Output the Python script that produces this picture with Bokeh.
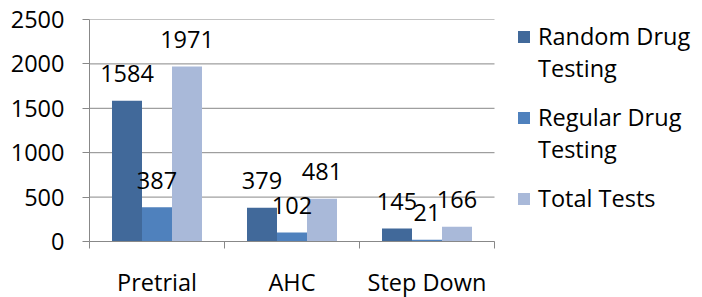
from bokeh.plotting import figure
from bokeh.models import ColumnDataSource, FixedTicker, Legend, LegendItem
from bokeh.transform import dodge
from bokeh.core.properties import value
from bokeh.embed import file_html
from bokeh.resources import INLINE

categories = ["Pretrial", "AHC", "Step Down"]
random_drug = [1584, 379, 145]
regular_drug = [387, 102, 21]
total_tests = [1971, 481, 166]
legend_line1 = ["Random Drug", "Regular Drug", "Total Tests"]
legend_line2 = ["Testing", "Testing"]
y_ticks = [0, 500, 1000, 1500, 2000, 2500]

COLORS = ["#41699A", "#4F81BD", "#A9B9D9"]
GRID = "#888888"
FONT = "Open Sans"
FS = "23.5px"

n = len(categories)
x_centers = [i + 0.5 for i in range(n)]
boundaries = [float(i) for i in range(n + 1)]

# frame spans to the right edge so that the legend sits inside it;
# the category area occupies the first 405 px of the 613 px frame
FRAME_W = 613
CAT_W = 405
p = figure(frame_width=FRAME_W, frame_height=222,
           x_range=(0, n * FRAME_W / CAT_W), y_range=(0, 2500),
           output_backend="svg", toolbar_location=None,
           min_border_left=89, min_border_right=0,
           min_border_top=19, min_border_bottom=56)
p.outline_line_color = None
p.background_fill_color = "white"
p.border_fill_color = "white"
p.xgrid.visible = False
p.ygrid.visible = False

# horizontal gridlines limited to the category area
gsrc = ColumnDataSource(dict(yv=y_ticks, x0=[0] * len(y_ticks), x1=[n] * len(y_ticks)))
p.segment(x0="x0", x1="x1", y0="yv", y1="yv", source=gsrc, line_color=GRID, line_width=1)

# y axis
p.yaxis.ticker = FixedTicker(ticks=y_ticks, minor_ticks=[])
p.yaxis.axis_line_color = GRID
p.yaxis.major_tick_line_color = GRID
p.yaxis.major_tick_in = 0
p.yaxis.major_tick_out = 7
p.yaxis.minor_tick_line_color = None
p.yaxis.major_label_text_font = FONT
p.yaxis.major_label_text_font_size = FS
p.yaxis.major_label_text_color = "black"
p.yaxis.major_label_standoff = 18

# x axis
p.xaxis.bounds = (0, n)
p.xaxis.ticker = FixedTicker(ticks=x_centers, minor_ticks=boundaries)
p.xaxis.major_label_overrides = {x: c for x, c in zip(x_centers, categories)}
p.xaxis.axis_line_color = GRID
p.xaxis.major_tick_line_color = None
p.xaxis.major_tick_in = 0
p.xaxis.major_tick_out = 0
p.xaxis.minor_tick_line_color = GRID
p.xaxis.minor_tick_in = 0
p.xaxis.minor_tick_out = 7
p.xaxis.major_label_text_font = FONT
p.xaxis.major_label_text_font_size = FS
p.xaxis.major_label_text_color = "black"
p.xaxis.major_label_standoff = 17

w = 30 / 135
series = [(-w, random_drug, COLORS[0]),
          (0.0, regular_drug, COLORS[1]),
          (w, total_tests, COLORS[2])]
renderers = []
label_sources = []
for off, vals, c in series:
    s = ColumnDataSource(dict(xc=x_centers, val=list(vals), lbl=[str(v) for v in vals]))
    r = p.vbar(x=dodge("xc", off, range=p.x_range), top="val", width=w, source=s,
               fill_color=c, line_color=None)
    renderers.append(r)
    label_sources.append((off, s))

# data labels drawn after all bars
for off, s in label_sources:
    p.text(x=dodge("xc", off, range=p.x_range), y="val", text="lbl", source=s,
           text_align="center", text_baseline="middle", y_offset=-27,
           text_font=value(FONT), text_font_size=FS, text_color="black")

dummy = p.vbar(x=[], top=[], width=0.1, fill_alpha=0, line_alpha=0)


def style(lg, spacing):
    lg.glyph_width = 15
    lg.glyph_height = 15
    lg.label_standoff = 7
    lg.label_height = 20
    lg.label_text_font = FONT
    lg.label_text_font_size = FS
    lg.label_text_color = "black"
    lg.padding = 0
    lg.margin = 0
    lg.spacing = spacing
    lg.border_line_color = None
    lg.background_fill_alpha = 0


legend1 = Legend(items=[LegendItem(label=t, renderers=[r]) for t, r in zip(legend_line1, renderers)],
                 location=(427, 27))
style(legend1, 49)
legend2 = Legend(items=[LegendItem(label=t, renderers=[dummy]) for t in legend_line2],
                 location=(427, 76))
style(legend2, 49)
p.add_layout(legend1)
p.add_layout(legend2)

open("out.html", "w").write(file_html(p, INLINE))
